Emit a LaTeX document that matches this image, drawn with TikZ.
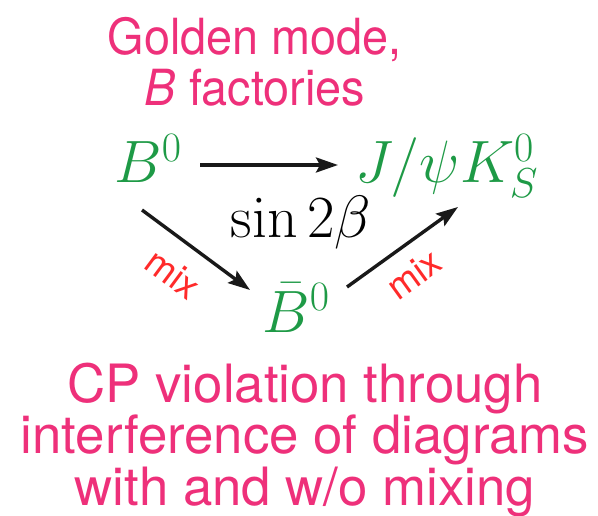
\RequirePackage{fix-cm}
\documentclass[tikz,border=0pt]{standalone}
\usepackage{amsmath}
\usepackage[no-math]{fontspec}
\setmainfont{TeX Gyre Heros}
\newfontfamily\narrowheros[FakeStretch=0.94]{TeX Gyre Heros}
\usetikzlibrary{arrows.meta}

\definecolor{titlepink}{HTML}{EE307A}
\definecolor{stategreen}{HTML}{1E9A46}
\definecolor{mixred}{HTML}{FF2A2A}

\begin{document}
\begin{tikzpicture}[
x=1bp, y=-1bp,
title/.style={text=titlepink, font=\narrowheros\fontsize{50}{51}\selectfont, align=center, inner sep=0pt},
summary/.style={text=titlepink, font=\fontsize{53}{51.5}\selectfont, align=center, inner sep=0pt},
state/.style={text=stategreen, font=\fontsize{60}{60}\selectfont, inner sep=0pt},
phase/.style={font=\fontsize{60}{60}\selectfont, inner sep=0pt},
mixlabel/.style={text=mixred, font=\fontsize{37}{37}\selectfont, inner sep=0pt, sloped},
arrow/.style={-{Stealth[length=22bp,width=15bp,inset=4bp]}, line width=3.4bp, draw=black!90} ]

\useasboundingbox (0,0) rectangle (598,516);

\node[title, anchor=north] (golden) at (255,17) {Golden mode,\\\textit{B} factories};

\node[state, anchor=base] (b0) at (148,183) {$B^0$};

\node[state, anchor=base] (jpsi) at (447,183) {$J/\psi K_S^0$};

\node[phase, anchor=base] (sin) at (301,238) {$\sin 2\beta$};

\node[state, anchor=base] (b0bar) at (296,332) {$\bar{B}^0$};

\node[summary, anchor=north] (cpv) at (305,363) {CP violation through\\interference of diagrams\\with and w/o mixing};

\draw[arrow] ([shift={(52,-18)}]b0.base) -- ([shift={(-109,-18)}]jpsi.base);

\draw[arrow] ([shift={(-6,27)}]b0.base) -- node[mixlabel, pos=0.47, below=18bp] {mix} ([shift={(-46,-42)}]b0bar.base);

\draw[arrow] ([shift={(51,-45)}]b0bar.base) -- node[mixlabel, pos=0.45, below=14bp] {mix} ([shift={(11,24)}]jpsi.base);

\end{tikzpicture}
\end{document}
